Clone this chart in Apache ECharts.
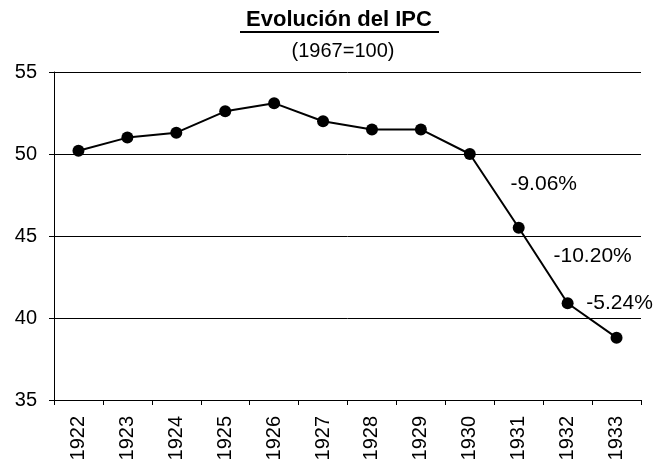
<!DOCTYPE html>
<html>
<head>
<meta charset="utf-8">
<script src="https://cdn.jsdelivr.net/npm/echarts@6/dist/echarts.min.js"></script>
<style>
  html, body { margin: 0; padding: 0; background: #fff; }
  #chart { width: 656px; height: 466px; }
</style>
</head>
<body>
<div id="chart"></div>
<script>
const years = ['1922','1923','1924','1925','1926','1927','1928','1929','1930','1931','1932','1933']
const ipc = [50.2, 51.0, 51.3, 52.6, 53.1, 52.0, 51.5, 51.5, 50.0, 45.5, 40.9, 38.8]
const yTicks = [35, 40, 45, 50, 55]
const noteYears = ['1931', '1932', '1933']
const noteTexts = ['-9.06%', '-10.20%', '-5.24%']
const noteOffsets = [[25, -44], [25, -47], [3, -34]]

const font = '"Liberation Sans", Arial, sans-serif'

const seriesData = years.map((y, i) => {
  const k = noteYears.indexOf(y)
  if (k < 0) return ipc[i]
  return {
    value: ipc[i],
    label: {
      show: true,
      position: 'inside',
      formatter: noteTexts[k],
      offset: noteOffsets[k],
      color: '#000',
      fontSize: 21,
      fontFamily: font
    }
  }
})

const chart = echarts.init(document.getElementById('chart'))
chart.setOption({
  animation: false,
  backgroundColor: '#fff',
  graphic: [
    {
      type: 'text', x: 339, y: 20,
      style: { text: 'Evolución del IPC', fill: '#000', font: 'bold 22px ' + font, align: 'center', verticalAlign: 'middle' }
    },
    { type: 'rect', shape: { x: 240, y: 31, width: 199, height: 2 }, style: { fill: '#000' } },
    {
      type: 'text', x: 343, y: 51,
      style: { text: '(1967=100)', fill: '#000', font: '20px ' + font, align: 'center', verticalAlign: 'middle' }
    }
  ],
  grid: { left: 54, right: 15, top: 72, bottom: 66 },
  xAxis: {
    type: 'category',
    data: years,
    boundaryGap: true,
    axisLine: { lineStyle: { color: '#000', width: 1 } },
    axisTick: { show: true, interval: 0, length: 5, lineStyle: { color: '#000' } },
    axisLabel: { rotate: 90, interval: 0, margin: 16, color: '#000', fontSize: 20, fontFamily: font }
  },
  yAxis: {
    type: 'value',
    min: yTicks[0],
    max: yTicks[yTicks.length - 1],
    interval: 5,
    axisLine: { show: true, lineStyle: { color: '#000', width: 1 } },
    axisTick: { show: true, length: 5, lineStyle: { color: '#000' } },
    axisLabel: { margin: 17, color: '#000', fontSize: 20, fontFamily: font },
    splitLine: { lineStyle: { color: '#000', width: 1 } }
  },
  series: [
    {
      type: 'line',
      data: seriesData,
      symbol: 'circle',
      symbolSize: 12,
      lineStyle: { color: '#000', width: 2 },
      itemStyle: { color: '#000' }
    }
  ]
})
</script>
</body>
</html>
